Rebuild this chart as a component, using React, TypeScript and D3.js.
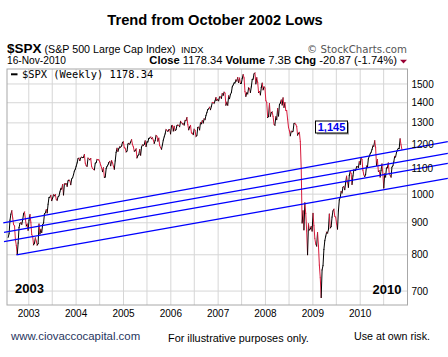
import React from "react";
import * as d3 from "d3";

// Weekly closes of $SPX, read per year
const w2002 = [852.84, 864.24, 908.64, 928.77, 940.86, 916.07, 893.92, 889.81, 845.39, 827.37, 800.58, 835.32, 884.39, 897.65, 900.96, 894.74, 909.83, 930.55, 936.31, 912.23, 889.48, 895.76, 875.4];
const w2003 = [908.59, 927.57, 901.78, 861.4, 855.7, 829.69, 834.89, 851.17, 841.15, 828.89, 833.27, 895.79, 863.5, 878.85, 868.3, 893.58, 898.81, 930.08, 933.41, 944.3, 933.22, 963.59, 987.76, 988.61, 995.69, 976.22, 985.7, 998.14, 993.32, 998.68, 980.15, 977.59, 990.67, 993.06, 1008.01, 1021.39, 1018.63, 1036.3, 996.85, 1038.73, 1038.06, 1039.32, 1028.91, 1050.71, 1053.21, 1050.35, 1035.28, 1058.2, 1061.5, 1074.14, 1088.66, 1095.89];
const w2004 = [1108.48, 1121.86, 1139.83, 1141.55, 1131.13, 1142.76, 1145.81, 1144.11, 1144.94, 1156.86, 1120.57, 1109.78, 1108.06, 1141.81, 1139.32, 1134.61, 1140.6, 1107.3, 1098.7, 1095.7, 1093.56, 1120.68, 1122.5, 1136.47, 1135.02, 1134.43, 1125.38, 1112.81, 1101.39, 1086.2, 1101.72, 1063.97, 1064.8, 1098.35, 1107.77, 1113.63, 1123.92, 1128.55, 1110.11, 1131.5, 1122.14, 1108.2, 1095.74, 1130.2, 1166.17, 1184.17, 1170.34, 1182.65, 1191.17, 1188.0, 1194.2, 1210.13, 1211.92];
const w2005 = [1186.19, 1184.52, 1167.87, 1171.36, 1203.03, 1205.3, 1201.59, 1211.37, 1222.12, 1200.08, 1190.21, 1171.42, 1172.92, 1181.2, 1142.62, 1152.12, 1156.85, 1178.84, 1154.05, 1189.28, 1198.78, 1196.02, 1200.93, 1216.96, 1191.57, 1211.86, 1211.86, 1227.92, 1229.03, 1234.18, 1226.42, 1230.39, 1219.71, 1205.1, 1218.02, 1241.48, 1237.91, 1215.29, 1228.81, 1195.9, 1186.57, 1179.59, 1198.41, 1220.14, 1234.72, 1248.27, 1268.25, 1265.08, 1259.37, 1267.32, 1268.66, 1248.29];
const w2006 = [1285.45, 1287.61, 1261.49, 1283.72, 1264.03, 1266.99, 1287.24, 1289.43, 1287.23, 1281.42, 1307.25, 1302.95, 1294.83, 1295.5, 1289.12, 1311.28, 1310.61, 1325.76, 1291.24, 1267.03, 1280.16, 1288.22, 1252.3, 1251.54, 1244.5, 1270.2, 1265.48, 1236.2, 1240.29, 1278.55, 1279.36, 1266.74, 1302.3, 1295.09, 1311.01, 1298.92, 1319.66, 1314.78, 1335.85, 1349.59, 1365.62, 1368.6, 1377.34, 1364.3, 1380.9, 1401.2, 1400.95, 1396.71, 1409.84, 1427.09, 1410.76, 1418.3];
const w2007 = [1409.71, 1430.73, 1430.5, 1422.18, 1448.39, 1438.06, 1455.54, 1451.19, 1387.17, 1402.84, 1386.95, 1436.11, 1420.86, 1443.76, 1452.85, 1484.35, 1494.07, 1505.62, 1505.85, 1522.75, 1515.73, 1536.34, 1507.67, 1532.91, 1502.56, 1503.35, 1530.44, 1552.5, 1534.1, 1458.95, 1433.06, 1453.64, 1445.94, 1479.37, 1473.99, 1453.55, 1484.25, 1525.75, 1526.75, 1557.59, 1561.8, 1500.63, 1535.28, 1509.65, 1453.7, 1458.74, 1440.7, 1481.14, 1504.66, 1467.95, 1484.46, 1478.49];
const w2008 = [1411.63, 1401.02, 1325.19, 1330.61, 1395.42, 1331.29, 1349.99, 1353.11, 1330.63, 1293.37, 1288.14, 1329.51, 1315.22, 1370.4, 1332.83, 1390.33, 1397.84, 1413.9, 1388.28, 1425.35, 1375.93, 1400.38, 1360.68, 1360.03, 1317.93, 1278.38, 1262.9, 1239.49, 1260.68, 1257.76, 1260.31, 1296.32, 1298.2, 1292.2, 1282.83, 1242.31, 1251.7, 1255.08, 1213.27, 1099.23, 899.22, 940.55, 876.77, 968.75, 930.99, 873.29, 800.03, 896.24, 876.07, 879.73, 887.88, 872.8];
const w2009 = [931.8, 890.35, 850.12, 831.95, 825.88, 868.6, 826.84, 770.05, 735.09, 683.38, 756.55, 768.54, 815.94, 842.5, 856.56, 869.6, 866.23, 877.52, 929.23, 882.88, 887.0, 919.14, 940.09, 946.21, 921.23, 918.9, 896.42, 879.13, 940.38, 979.26, 987.48, 1010.48, 1004.09, 1026.13, 1028.93, 1016.4, 1042.73, 1068.3, 1044.38, 1025.21, 1071.49, 1087.68, 1079.6, 1036.19, 1069.3, 1093.48, 1091.38, 1091.49, 1105.98, 1106.41, 1102.47, 1126.48];
const w2010 = [1115.1, 1144.98, 1136.03, 1091.76, 1073.87, 1066.19, 1075.51, 1109.17, 1104.49, 1138.7, 1149.99, 1159.9, 1166.59, 1178.1, 1194.37, 1192.13, 1217.28, 1186.69, 1110.88, 1135.68, 1087.69, 1089.41, 1064.88, 1091.6, 1117.51, 1076.76, 1022.58, 1077.96, 1064.88, 1102.66, 1101.6, 1121.64, 1079.25, 1071.69, 1064.59, 1104.51, 1109.55, 1125.59, 1148.67, 1146.24, 1165.15, 1176.19, 1183.08, 1183.26, 1225.85, 1199.21, 1178.34];

const yearSeries: [Date, number[]][] = [
  [new Date(2002, 6, 26), w2002],
  [d3.timeFriday.ceil(new Date(2003, 0, 1)), w2003],
  [d3.timeFriday.ceil(new Date(2004, 0, 1)), w2004],
  [d3.timeFriday.ceil(new Date(2005, 0, 1)), w2005],
  [d3.timeFriday.ceil(new Date(2006, 0, 1)), w2006],
  [d3.timeFriday.ceil(new Date(2007, 0, 1)), w2007],
  [d3.timeFriday.ceil(new Date(2008, 0, 1)), w2008],
  [d3.timeFriday.ceil(new Date(2009, 0, 1)), w2009],
  [d3.timeFriday.ceil(new Date(2010, 0, 1)), w2010],
];

// Trend channel lines drawn on the chart: [start date, start value, end date, end value]
const trendStartDates = ["2002-06-18", "2002-06-24", "2002-06-24", "2002-09-28"];
const trendStartValues = [900, 869, 840, 800];
const trendEndDates = ["2011-11-08", "2011-11-08", "2011-11-08", "2011-11-08"];
const trendEndValues = [1213, 1162, 1120, 1060];

const yTicks = [700, 800, 900, 1000, 1100, 1200, 1300, 1400, 1500];
const xYears = [2003, 2004, 2005, 2006, 2007, 2008, 2009, 2010];

const annotationValue = "1,145";

export default function App() {
  const W = 448, H = 357;
  const L = 7, R = 407.5, T = 69, B = 305;
  const x = d3.scaleTime().domain([new Date(2002, 6, 17), new Date(2011, 0, 1)]).range([L, R]);
  const y = d3.scaleLog().domain([665, 1585]).range([B, T]);

  const pts: { d: Date; v: number }[] = [];
  yearSeries.forEach(([start, vals]) => {
    vals.forEach((v, i) => pts.push({ d: d3.timeWeek.offset(start, i), v }));
  });

  const gridDates: Date[] = [];
  xYears.forEach((yr) => {
    gridDates.push(new Date(yr, 0, 1));
    gridDates.push(new Date(yr, 6, 1));
  });

  const parse = d3.timeParse("%Y-%m-%d");
  const font = "'Liberation Sans', Arial, sans-serif";
  const red = "#d81b3c";

  return (
    <svg width={W} height={H} style={{ position: "absolute", left: 0, top: 0, background: "#fff" }} fontFamily={font}>
      <rect x={0} y={0} width={W} height={H} fill="#fff" />
      {/* Title */}
      <text x={215} y={25} textAnchor="middle" fontSize={14.7} fontWeight="bold" fill="#000">Trend from October 2002 Lows</text>
      {/* header row 1 */}
      <text x={7} y={53.3} fontSize={13.5} fontWeight="bold" fill="#000">$SPX</text>
      <text x={44.5} y={53} fontSize={10.7} fill="#000">(S&amp;P 500 Large Cap Index)</text>
      <text x={181} y={53} fontSize={9.4} fill="#000">INDX</text>
      <text x={407} y={52.5} textAnchor="end" fontSize={10.2} fill="#555" fontFamily="'DejaVu Sans', Verdana, sans-serif">© StockCharts.com</text>
      {/* header row 2 */}
      <text x={7} y={64.3} fontSize={10.2} fill="#000">16-Nov-2010</text>
      <text x={397} y={64.3} textAnchor="end" fontSize={11.2} fill="#000">
        <tspan fontWeight="bold">Close</tspan>
        <tspan> 1178.34 </tspan>
        <tspan fontWeight="bold">Volume</tspan>
        <tspan> 7.3B </tspan>
        <tspan fontWeight="bold">Chg</tspan>
        <tspan> -20.87 (-1.74%)</tspan>
      </text>
      <path d="M400,59.8 L407,59.8 L403.5,63.6 Z" fill="#990033" />

      {/* grid */}
      {yTicks.map((t) => (
        <line key={"h" + t} x1={L} x2={R} y1={y(t)} y2={y(t)} stroke="#d6d6d6" strokeWidth={1} />
      ))}
      {gridDates.map((g, i) => (
        <line key={"v" + i} x1={x(g)} x2={x(g)} y1={T} y2={B} stroke="#d6d6d6" strokeWidth={1} />
      ))}
      <rect x={L} y={T} width={R - L} height={B - T} fill="none" stroke="#a8a8a8" strokeWidth={1} />

      {/* legend */}
      <line x1={11} x2={17.5} y1={74.3} y2={74.3} stroke="#000" strokeWidth={2} />
      <text x={22} y={77.6} fontSize={10.4} fill="#000" fontFamily="'DejaVu Sans Mono', monospace">$SPX (Weekly) 1178.34</text>

      {/* price line, black up / red down */}
      <g>
        {pts.slice(1).map((p, i) => {
          const prev = pts[i];
          return (
            <line
              key={"s" + i}
              x1={x(prev.d)} y1={y(prev.v)} x2={x(p.d)} y2={y(p.v)}
              stroke={p.v < prev.v ? red : "#000"}
              strokeWidth={1}
              strokeLinecap="round"
            />
          );
        })}
      </g>

      {/* trend lines */}
      {trendStartDates.map((sd, i) => (
        <line
          key={"t" + i}
          x1={x(parse(sd)!)} y1={y(trendStartValues[i])}
          x2={x(parse(trendEndDates[i])!)} y2={y(trendEndValues[i])}
          stroke="#0000ff" strokeWidth={1.3}
        />
      ))}

      {/* annotation box */}
      <rect x={317} y={122.5} width={32} height={12} fill="#9a9a9a" />
      <rect x={315.5} y={121} width={32} height={12} fill="#fff" stroke="#000" strokeWidth={1} />
      <text x={331.5} y={131} textAnchor="middle" fontSize={11} fontWeight="bold" fill="#0000ee">{annotationValue}</text>

      {/* in-plot year labels */}
      <text x={15} y={292.7} fontSize={13} fontWeight="bold" fill="#000">2003</text>
      <text x={401.5} y={293.5} textAnchor="end" fontSize={13} fontWeight="bold" fill="#000">2010</text>

      {/* y axis labels */}
      {yTicks.map((t) => (
        <text key={"yl" + t} x={411.5} y={y(t) + 3.6} fontSize={10} fill="#000">{t}</text>
      ))}
      {/* x axis labels */}
      {xYears.map((yr) => (
        <text key={"xl" + yr} x={x(new Date(yr, 0, 1))} y={317} textAnchor="middle" fontSize={10} fill="#000">{yr}</text>
      ))}

      {/* footer */}
      <text x={11} y={340.3} fontSize={11.4} fill="#1f3560">www.ciovaccocapital.com</text>
      <text x={168} y={341.8} fontSize={10.9} fill="#000">For illustrative purposes only.</text>
      <text x={354} y={340.2} fontSize={10.7} fill="#000">Use at own risk.</text>
    </svg>
  );
}
